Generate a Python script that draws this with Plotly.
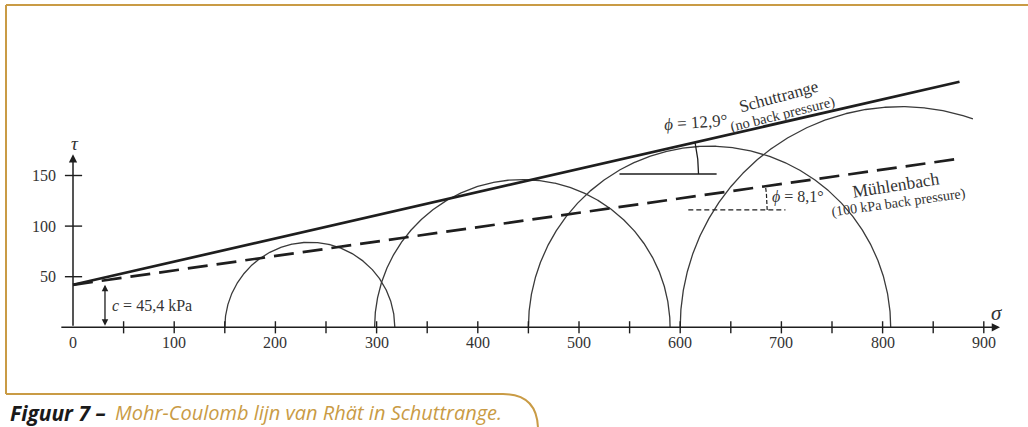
import numpy as np
import plotly.graph_objects as go

# ---------------- data ----------------
sigma3 = [150, 298, 450, 600]      # left end of each Mohr circle (kPa)
sigma1 = [318, 590, 808, 1036]     # right end of each Mohr circle (kPa)
sigma_clip = 890                   # circles are cut off at this sigma
c_intercept = 42.0                 # drawn intercept of both envelopes (kPa)
c_text = "45,4"                    # cohesion as labelled
phi_schuttrange = 12.9             # degrees
phi_muhlenbach = 8.1               # degrees
envelope_end = 876                 # sigma where the envelopes stop
x_tick_vals = list(range(50, 901, 50))
x_label_vals = list(range(0, 901, 100))
y_tick_vals = [50, 100, 150]
y_label_vals = [50, 100, 150]

# ---------------- geometry of the page ----------------
W, H = 1028, 427
K = 1.012                      # pixels per kPa
X0, Y0 = 73, 327.3             # pixel of the origin
xr = [-X0 / K, (W - X0) / K]
yr = [(Y0 - H) / K, Y0 / K]

TXT = "#333333"
LINE = "#1e1e1e"
GOLD = "#C99B45"
SERIF = "Liberation Serif, Times New Roman, serif"
SANS = "Open Sans, Noto Sans, sans-serif"

fig = go.Figure()

# Mohr circles
for s3, s1 in zip(sigma3, sigma1):
    cen, r = (s1 + s3) / 2, (s1 - s3) / 2
    th = np.linspace(np.pi, 0, 600)
    s = cen + r * np.cos(th)
    t = r * np.sin(th)
    m = s <= sigma_clip
    fig.add_trace(go.Scatter(x=s[m], y=t[m], mode="lines",
                             line=dict(color="#3a3a3a", width=1.3),
                             hoverinfo="skip"))

# envelopes
for phi, dash in [(phi_schuttrange, "solid"), (phi_muhlenbach, "20px,9px")]:
    s = np.array([0, envelope_end])
    fig.add_trace(go.Scatter(x=s, y=c_intercept + np.tan(np.radians(phi)) * s,
                             mode="lines",
                             line=dict(color=LINE, width=2.7, dash=dash),
                             hoverinfo="skip"))

# axis ticks
tx, ty = [], []
for v in x_tick_vals:
    tx += [v, v, None]
    ty += [-6, 6, None]
for v in y_tick_vals:
    tx += [-8, 9, None]
    ty += [v, v, None]
fig.add_trace(go.Scatter(x=tx, y=ty, mode="lines",
                         line=dict(color=LINE, width=1.4), hoverinfo="skip"))

# angle markers
tau_h1 = 151.5
sc1 = (tau_h1 - c_intercept) / np.tan(np.radians(phi_schuttrange))
fig.add_trace(go.Scatter(x=[540, 636], y=[tau_h1, tau_h1], mode="lines",
                         line=dict(color=LINE, width=1.5), hoverinfo="skip"))
a = np.radians(np.linspace(0, phi_schuttrange, 60))
r1 = 140
fig.add_trace(go.Scatter(x=sc1 + r1 * np.cos(a), y=tau_h1 + r1 * np.sin(a),
                         mode="lines", line=dict(color=LINE, width=1.3),
                         hoverinfo="skip"))
tau_h2 = 116.0
sc2 = (tau_h2 - c_intercept) / np.tan(np.radians(phi_muhlenbach))
fig.add_trace(go.Scatter(x=[608, 704], y=[tau_h2, tau_h2], mode="lines",
                         line=dict(color=LINE, width=1.2, dash="5px,3px"),
                         hoverinfo="skip"))
a = np.radians(np.linspace(0, phi_muhlenbach, 40))
r2 = 166
fig.add_trace(go.Scatter(x=sc2 + r2 * np.cos(a), y=tau_h2 + r2 * np.sin(a),
                         mode="lines", line=dict(color=LINE, width=1.2, dash="4px,2px"),
                         hoverinfo="skip"))

ann = []
ann.append(dict(x=916, y=0, ax=-13, ay=0, xref="x", yref="y", axref="x", ayref="y",
                text="", showarrow=True, arrowhead=2, arrowsize=1.1,
                arrowwidth=1.5, arrowcolor=LINE))
ann.append(dict(x=0, y=171, ax=0, ay=0, xref="x", yref="y", axref="x", ayref="y",
                text="", showarrow=True, arrowhead=2, arrowsize=1.1,
                arrowwidth=1.5, arrowcolor=LINE))
ann.append(dict(x=31.6, y=c_intercept, ax=31.6, ay=0, xref="x", yref="y",
                axref="x", ayref="y", text="", showarrow=True, arrowhead=2,
                arrowside="end+start", arrowsize=1, arrowwidth=1.3,
                arrowcolor=LINE))

for v in x_label_vals:
    ann.append(dict(x=v, y=-15.5, xref="x", yref="y", text=str(v), showarrow=False,
                    font=dict(family=SERIF, size=16, color=TXT)))
for v in y_label_vals:
    ann.append(dict(x=-15, y=v, xref="x", yref="y", text=str(v), showarrow=False,
                    xanchor="right", font=dict(family=SERIF, size=16, color=TXT)))


def lab(x, y, text, size, angle=0, anchor="center"):
    ann.append(dict(x=x, y=y, xref="x", yref="y", text=text, showarrow=False,
                    textangle=angle, xanchor=anchor, yanchor="middle",
                    font=dict(family=SERIF, size=size, color=TXT)))


lab(2, 182, "<i>τ</i>", 19)
lab(913, 14, "<i>σ</i>", 21)
lab(36.6, 22, "<i>c</i> = " + c_text + " kPa", 16, anchor="left")
lab(697.6, 228.5, "Schuttrange", 17, -15)
lab(700.6, 210.5, "(no back pressure)", 14.5, -14)
lab(615.6, 201.9, "<i>ϕ</i> = 12,9°", 17, -4)
lab(813.2, 140.6, "Mühlenbach", 17.5, -9)
lab(816.2, 122.8, "(100 kPa back pressure)", 14, -8)
lab(716.4, 128.8, "<i>ϕ</i> = 8,1°", 16)

# caption
ann.append(dict(x=8 / W, y=1 - 412.5 / H, xref="paper", yref="paper",
                text="<b><i>Figuur 7 –</i></b>", showarrow=False,
                xanchor="left", yanchor="middle",
                font=dict(family=SANS, size=21, color="#1a1a1a")))
ann.append(dict(x=113 / W, y=1 - 412.5 / H, xref="paper", yref="paper",
                text="<i>Mohr-Coulomb lijn van Rhät in Schuttrange.</i>",
                showarrow=False, xanchor="left", yanchor="middle",
                font=dict(family=SANS, size=20, color=GOLD)))


def px(x):
    return x / W


def py(y):
    return 1 - y / H


shapes = [
    dict(type="line", xref="paper", yref="paper", x0=px(6), y0=py(5), x1=px(W), y1=py(5),
         line=dict(color=GOLD, width=2)),
    dict(type="line", xref="paper", yref="paper", x0=px(6), y0=py(5), x1=px(6), y1=py(394),
         line=dict(color=GOLD, width=2)),
    dict(type="path", xref="paper", yref="paper",
         path=f"M {px(6)} {py(394)} L {px(503)} {py(394)} "
              f"Q {px(538)} {py(394)} {px(538)} {py(430)}",
         line=dict(color=GOLD, width=2)),
]

fig.update_layout(
    width=W, height=H, margin=dict(l=0, r=0, t=0, b=0),
    paper_bgcolor="white", plot_bgcolor="white", showlegend=False,
    xaxis=dict(range=xr, visible=False, fixedrange=True),
    yaxis=dict(range=yr, visible=False, fixedrange=True),
    annotations=ann, shapes=shapes,
)

fig.write_html("out.html", config={"displayModeBar": False},
               post_script="document.body.style.margin='0px';document.body.style.overflow='hidden';")
